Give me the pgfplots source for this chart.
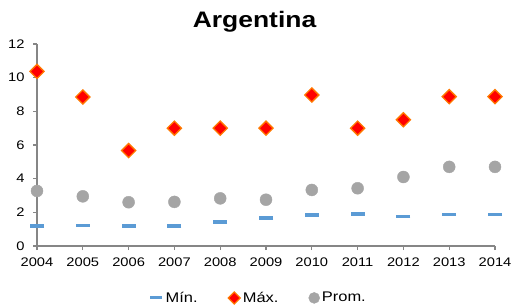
\documentclass[border=0pt]{standalone}
\usepackage{pgfplots}
\pgfplotsset{compat=1.18}
\usepackage{fontspec}
\setmainfont[FakeStretch=1.18]{Liberation Sans}
\definecolor{minc}{RGB}{91,155,213}
\definecolor{maxf}{RGB}{255,0,0}
\definecolor{maxd}{RGB}{255,120,0}
\definecolor{promc}{RGB}{165,165,165}
\definecolor{axc}{RGB}{134,134,134}
\begin{document}
\begin{tikzpicture}[x=1bp,y=1bp]
\useasboundingbox (0,0) rectangle (515,304);
\begin{axis}[
  at={(37bp,58bp)}, anchor=south west,
  scale only axis, width=458bp, height=202bp,
  xmin=2004, xmax=2014, ymin=0, ymax=12,
  xtick={2004,2005,...,2014}, ytick={0,2,...,12},
  axis lines*=left,
  axis line style={axc, line width=1.4bp},
  tick style={axc, line width=1.2bp},
  tick align=outside, major tick length=4bp,
  /pgf/number format/1000 sep={},
  /pgf/number format/assume math mode=true,
  ticklabel style={font=\fontsize{12.5}{14}\selectfont},
  xticklabel style={yshift=-4bp},
  yticklabel style={xshift=-5bp},
  legend columns=3,
  legend style={draw=none, fill=none, at={(0.483,-0.257)}, anchor=center,
    font=\fontsize{14}{16}\selectfont,
    /tikz/every even column/.append style={column sep=28bp},
    /tikz/every odd column/.append style={column sep=0bp}},
  legend cell align=left,
  clip=false,
]
\addplot[only marks, mark=-, mark size=7bp, color=minc, line width=3.5bp,
  legend image code/.code={\draw[minc, line width=3bp] (0bp,0bp) -- (12bp,0bp);}]
  coordinates {(2004,1.2) (2005,1.22) (2006,1.2) (2007,1.2) (2008,1.43) (2009,1.65) (2010,1.84) (2011,1.9) (2012,1.76) (2013,1.87) (2014,1.87)};
\addlegendentry{Mín.}
\addplot[only marks, mark=square*, mark size=5bp, mark options={rotate=45, fill=maxf, draw=maxd, line width=1.3bp},
  legend image code/.code={\draw[fill=maxf, draw=maxd, line width=1.2bp] (0bp,0bp) -- (6bp,6bp) -- (12bp,0bp) -- (6bp,-6bp) -- cycle;}]
  coordinates {(2004,10.37) (2005,8.85) (2006,5.67) (2007,7.0) (2008,7.0) (2009,7.0) (2010,8.97) (2011,7.0) (2012,7.5) (2013,8.87) (2014,8.87)};
\addlegendentry{Máx.}
\addplot[only marks, mark=*, mark size=6bp, mark options={fill=promc, draw=promc},
  legend image code/.code={\fill[promc] (6bp,0bp) circle[radius=5.5bp];}]
  coordinates {(2004,3.27) (2005,2.95) (2006,2.6) (2007,2.62) (2008,2.83) (2009,2.75) (2010,3.33) (2011,3.43) (2012,4.1) (2013,4.7) (2014,4.7)};
\addlegendentry{Prom.}
\end{axis}
\node[font=\fontsize{22.5}{25}\selectfont\bfseries, anchor=base] at (254.5bp,276bp) {Argentina};
\end{tikzpicture}
\end{document}
